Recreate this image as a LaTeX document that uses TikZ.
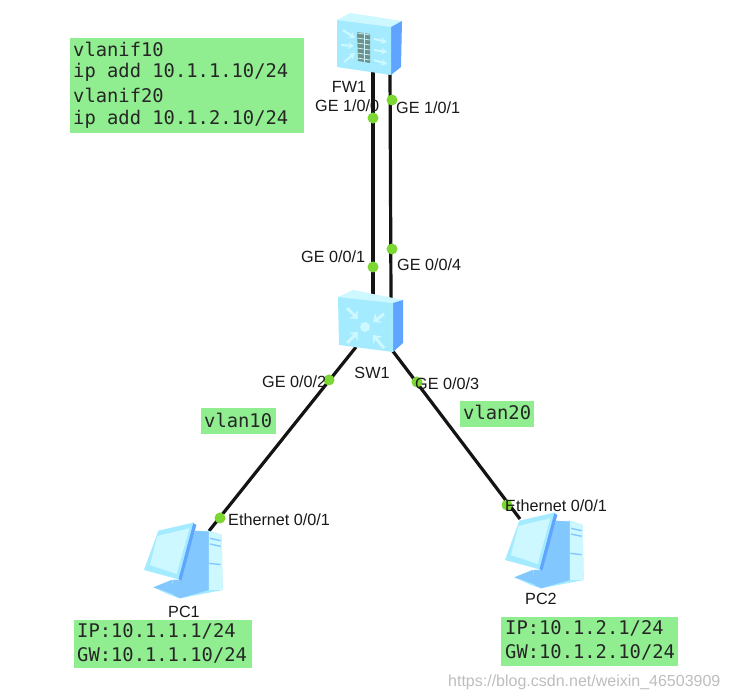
\documentclass[tikz,border=0pt]{standalone}
\usepackage{fontspec}
\usetikzlibrary{arrows.meta}
\setmainfont{Liberation Sans}
\newfontfamily\monof{DejaVu Sans Mono}
\definecolor{notegreen}{RGB}{144,238,144}
\definecolor{portdot}{RGB}{125,215,50}
\definecolor{face}{RGB}{165,235,255}
\definecolor{facelight}{RGB}{205,248,255}
\definecolor{sidec}{RGB}{95,165,255}
\definecolor{midblue}{RGB}{130,200,255}
\definecolor{wm}{RGB}{190,190,190}
\definecolor{brick}{RGB}{110,145,140}
\tikzset{
  x=1pt,y=-1pt,
  link/.style={draw=black!92,line width=3.2pt},
  portd/.style={circle,fill=portdot,inner sep=0pt,minimum size=11pt},
  lab/.style={font=\fontsize{16.2}{18}\selectfont,text=black!90,inner sep=0pt},
  notetxt/.style={font=\monof\fontsize{18.8}{23}\selectfont,text=black!85,align=left,inner sep=0pt,anchor=west},
  pcicon/.pic={
    \fill[face] (195,95)--(235,92)--(275,105)--(278,270)--(150,295)--(120,285)--(70,262)--(125,240)--(150,240)--cycle;
    \fill[midblue] (195,92)--(237,95)--(237,270)--(150,295)--(130,285)--(128,240)--(150,240)--cycle;
    \fill[midblue] (70,262)--(125,240)--(135,285)--(100,272)--cycle;
    \fill[facelight] (237,95)--(275,105)--(278,270)--(237,270)--cycle;
    \fill[sidec] (188,68)--(199,75)--(154,242)--(143,236)--cycle;
    \fill[face] (85,92)--(190,68)--(145,238)--(42,210)--cycle;
    \fill[facelight] (82,108)--(178,85)--(140,222)--(60,195)--cycle;
    \draw[midblue,line width=1.4pt] (240,115)--(272,122) (240,132)--(272,139) (238,190)--(272,194);
  },
  fwarrow/.style={draw=facelight,line width=2pt,-{Stealth[length=6pt,width=7pt]}},
  swarrow/.style={draw=facelight,line width=3pt,-{Stealth[length=7pt,width=12pt]}},
}
\begin{document}
\begin{tikzpicture}
\useasboundingbox (0,0) rectangle (729,700);
\fill[white] (0,0) rectangle (729,700);
% notes
\fill[notegreen] (70,38) rectangle (304,133);
\fill[notegreen] (201,408) rectangle (276,434);
\fill[notegreen] (460,401) rectangle (534,427);
\fill[notegreen] (74,620) rectangle (252,668);
\fill[notegreen] (501,617) rectangle (678,666);
\node[notetxt] (n1) at (73,49) {vlanif10};
\node[notetxt] (n2) at (73,72) {ip add 10.1.1.10/24};
\node[notetxt] (n3) at (73,95) {vlanif20};
\node[notetxt] (n4) at (73,119) {ip add 10.1.2.10/24};
\node[notetxt] (v10) at (204,420) {vlan10};
\node[notetxt] (v20) at (463,412) {vlan20};
\node[notetxt] (p1a) at (77,631) {IP:10.1.1.1/24};
\node[notetxt] (p1b) at (77,655) {GW:10.1.1.10/24};
\node[notetxt] (p2a) at (505,628) {IP:10.1.2.1/24};
\node[notetxt] (p2b) at (505,652) {GW:10.1.2.10/24};
% anchors of the devices
\coordinate (fwl) at (373,70);
\coordinate (fwr) at (390,70);
\coordinate (swl) at (373,296);
\coordinate (swr) at (391,298);
\coordinate (swa) at (356,347);
\coordinate (swb) at (392,350);
\coordinate (pca) at (209,531);
\coordinate (pcb) at (520,519);
% links
\draw[link] (fwl)--(swl);
\draw[link] (fwr)--(swr);
\draw[link] (swa)--(pca);
\draw[link] (swb)--(pcb);
% firewall
\fill[facelight] (337,20)--(350,13)--(402,21)--(391,27)--cycle;
\fill[sidec] (391,27)--(402,21)--(401,67)--(391,75)--cycle;
\fill[face] (337,20)--(391,27)--(391,75)--(337,67)--cycle;
\fill[brick] (357,32)--(370,34)--(370,63)--(358,61)--cycle;
\foreach \y in {35,40,45,50,55,60}{\draw[facelight,line width=.7pt] (357,\y-2)--(370,\y);}
\draw[facelight,line width=.7pt] (364,33)--(364,62);
\draw[fwarrow] (343,30)--(355,38);
\draw[fwarrow] (341,45)--(354,46);
\draw[fwarrow] (344,62)--(355,53);
\draw[fwarrow] (374,39)--(387,42);
\draw[fwarrow] (374,50)--(387,52);
\draw[fwarrow] (374,60)--(387,64);
\node[lab,anchor=center] (fwname) at (349,87) {FW1};
% switch
\fill[facelight] (338,297)--(353,290)--(403,300)--(393,303)--cycle;
\fill[sidec] (393,303)--(403,300)--(403,343)--(393,352)--cycle;
\fill[face] (338,297)--(393,303)--(393,352)--(339,345)--cycle;
\fill[facelight] (365,327) circle (5pt);
\draw[swarrow] (347,308)--(358,319);
\draw[swarrow] (384,314)--(373,322);
\draw[swarrow] (347,343)--(358,332);
\draw[swarrow] (384,348)--(373,335);
\node[lab,anchor=center] (swname) at (372,373) {SW1};
% PCs
\begin{scope}[shift={(130,500)},x=.3333pt,y=-.3333pt]
\pic {pcicon};
\end{scope}
\begin{scope}[shift={(491,490)},x=.3333pt,y=-.3333pt]
\pic {pcicon};
\end{scope}
\node[lab,anchor=center] (pc1name) at (184,612) {PC1};
\node[lab,anchor=center] (pc2name) at (541,599) {PC2};
% port dots
\node[portd] (d1) at (373,118) {};
\node[portd] (d2) at (392,100) {};
\node[portd] (d3) at (373,267) {};
\node[portd] (d4) at (392,249) {};
\node[portd] (d5) at (329,380) {};
\node[portd] (d6) at (417,382) {};
\node[portd] (d7) at (220,518) {};
\node[portd] (d8) at (507,505) {};
% port labels
\node[lab,anchor=west] (l1) at (315,106) {GE 1/0/0};
\node[lab,anchor=west] (l2) at (396,108) {GE 1/0/1};
\node[lab,anchor=west] (l3) at (301,257) {GE 0/0/1};
\node[lab,anchor=west] (l4) at (397,265) {GE 0/0/4};
\node[lab,anchor=west] (l5) at (262,382) {GE 0/0/2};
\node[lab,anchor=west] (l6) at (415,384) {GE 0/0/3};
\node[lab,anchor=west] (l7) at (228,520) {Ethernet 0/0/1};
\node[lab,anchor=west] (l8) at (505,506) {Ethernet 0/0/1};
\node[font=\fontsize{16}{18}\selectfont,text=wm,anchor=west,inner sep=0pt] (wmk) at (448,682) {https://blog.csdn.net/weixin\_46503909};
\end{tikzpicture}
\end{document}
